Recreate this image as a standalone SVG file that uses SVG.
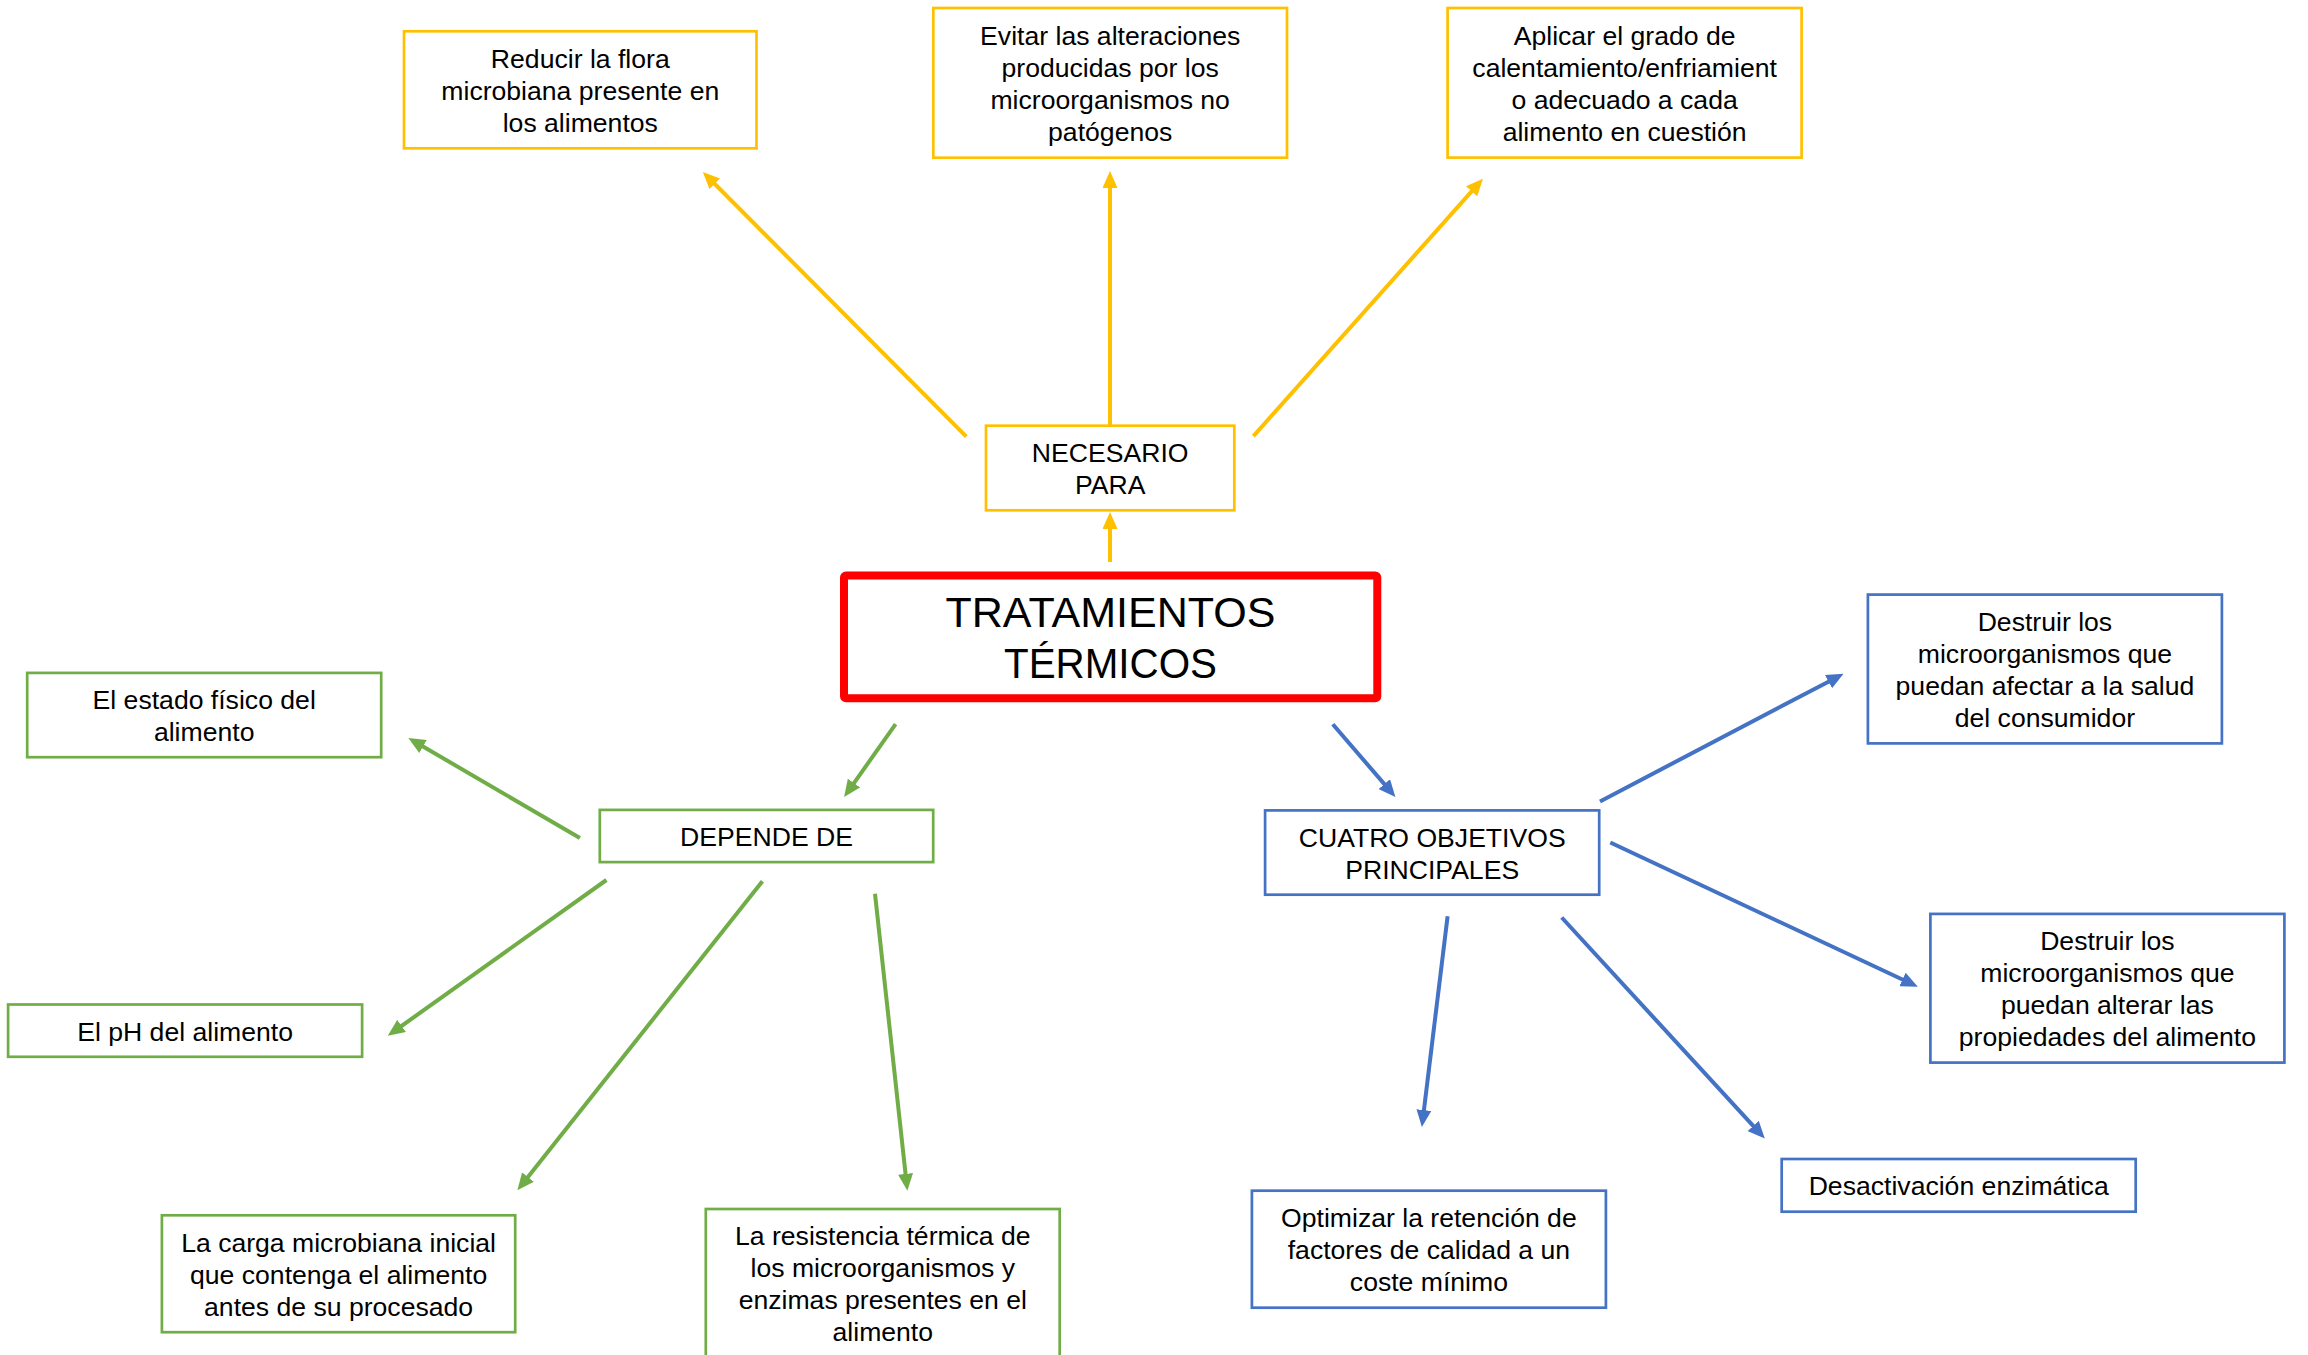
<svg xmlns="http://www.w3.org/2000/svg" width="2308" height="1355" viewBox="0 0 2308 1355">
<style>
.bg{fill:#ffffff}
.box{fill:#ffffff;stroke-width:2.7}
.y{stroke:#FFC000}
.g{stroke:#70AD47}
.b{stroke:#4472C4}
.t{font-family:"Liberation Sans",Arial,sans-serif;font-size:26.6px;fill:#000000;text-anchor:middle}
.title{font-family:"Liberation Sans",Arial,sans-serif;font-size:43px;fill:#000000;text-anchor:middle}
.c{fill:none;stroke-width:4}
</style>
<defs>
<marker id="ay" markerUnits="userSpaceOnUse" markerWidth="17" markerHeight="15" refX="7" refY="7.5" orient="auto"><path d="M0,0 L17,7.5 L0,15 Z" fill="#FFC000"/></marker>
<marker id="ag" markerUnits="userSpaceOnUse" markerWidth="17" markerHeight="15" refX="7" refY="7.5" orient="auto"><path d="M0,0 L17,7.5 L0,15 Z" fill="#70AD47"/></marker>
<marker id="ab" markerUnits="userSpaceOnUse" markerWidth="17" markerHeight="15" refX="7" refY="7.5" orient="auto"><path d="M0,0 L17,7.5 L0,15 Z" fill="#4472C4"/></marker>
</defs>
<rect class="bg" x="0" y="0" width="2308" height="1355"/>

<g id="connectors">
<line class="c y" x1="966.3" y1="436.6" x2="709.9" y2="179" marker-end="url(#ay)"/>
<line class="c y" x1="1110" y1="426" x2="1110" y2="181" marker-end="url(#ay)"/>
<line class="c y" x1="1253.4" y1="436.2" x2="1476.3" y2="186.1" marker-end="url(#ay)"/>
<line class="c y" x1="1110" y1="562" x2="1110" y2="522" marker-end="url(#ay)"/>
<line class="c g" x1="895.6" y1="724.2" x2="849.9" y2="788.8" marker-end="url(#ag)"/>
<line class="c g" x1="579.9" y1="838" x2="417" y2="743" marker-end="url(#ag)"/>
<line class="c g" x1="606.4" y1="880" x2="395.9" y2="1030" marker-end="url(#ag)"/>
<line class="c g" x1="762.4" y1="881.3" x2="523.6" y2="1182.5" marker-end="url(#ag)"/>
<line class="c g" x1="875" y1="893.8" x2="906.3" y2="1180.8" marker-end="url(#ag)"/>
<line class="c b" x1="1332.8" y1="724.2" x2="1388.9" y2="789.4" marker-end="url(#ab)"/>
<line class="c b" x1="1600" y1="801.4" x2="1834.7" y2="678.4" marker-end="url(#ab)"/>
<line class="c b" x1="1610.3" y1="842.5" x2="1908.8" y2="982.5" marker-end="url(#ab)"/>
<line class="c b" x1="1447.6" y1="916.2" x2="1423.1" y2="1117" marker-end="url(#ab)"/>
<line class="c b" x1="1561.7" y1="917.5" x2="1758" y2="1131.1" marker-end="url(#ab)"/>
</g>

<g id="n-reducir">
<rect class="box y" x="404" y="31.3" width="352.5" height="117"/>
<text class="t"><tspan x="580.3" y="67.7">Reducir la flora</tspan><tspan x="580.3" y="99.7">microbiana presente en</tspan><tspan x="580.3" y="131.7">los alimentos</tspan></text>
</g>
<g id="n-evitar">
<rect class="box y" x="933.3" y="8" width="353.7" height="149.7"/>
<text class="t"><tspan x="1110.2" y="44.8">Evitar las alteraciones</tspan><tspan x="1110.2" y="76.8">producidas por los</tspan><tspan x="1110.2" y="108.8">microorganismos no</tspan><tspan x="1110.2" y="140.8">patógenos</tspan></text>
</g>
<g id="n-aplicar">
<rect class="box y" x="1447.6" y="8" width="354" height="149.6"/>
<text class="t"><tspan x="1624.6" y="44.8">Aplicar el grado de</tspan><tspan x="1624.6" y="76.8">calentamiento/enfriamient</tspan><tspan x="1624.6" y="108.8">o adecuado a cada</tspan><tspan x="1624.6" y="140.8">alimento en cuestión</tspan></text>
</g>
<g id="n-necesario">
<rect class="box y" x="986" y="425.7" width="248.3" height="84.6"/>
<text class="t"><tspan x="1110.2" y="462">NECESARIO</tspan><tspan x="1110.2" y="494">PARA</tspan></text>
</g>
<g id="n-tratamientos">
<rect x="844" y="575.5" width="533.3" height="122.8" rx="2" fill="#ffffff" stroke="#FF0000" stroke-width="8"/>
<text class="title"><tspan x="1110.5" y="626.7" textLength="330" lengthAdjust="spacingAndGlyphs">TRATAMIENTOS</tspan><tspan x="1110.5" y="678.3" textLength="213" lengthAdjust="spacingAndGlyphs">TÉRMICOS</tspan></text>
</g>

<g id="n-estado">
<rect class="box g" x="27.2" y="672.9" width="354" height="84.3"/>
<text class="t"><tspan x="204.2" y="709">El estado físico del</tspan><tspan x="204.2" y="741">alimento</tspan></text>
</g>
<g id="n-depende">
<rect class="box g" x="599.8" y="809.9" width="333.4" height="52.2"/>
<text class="t" x="766.5" y="846">DEPENDE DE</text>
</g>
<g id="n-ph">
<rect class="box g" x="8.1" y="1004.5" width="354" height="52.3"/>
<text class="t" x="185.1" y="1040.6">El pH del alimento</text>
</g>
<g id="n-carga">
<rect class="box g" x="161.9" y="1215.3" width="353.3" height="116.9"/>
<text class="t"><tspan x="338.6" y="1251.7">La carga microbiana inicial</tspan><tspan x="338.6" y="1283.7">que contenga el alimento</tspan><tspan x="338.6" y="1315.7">antes de su procesado</tspan></text>
</g>
<g id="n-resistencia">
<rect class="box g" x="705.8" y="1209" width="353.9" height="160"/>
<text class="t"><tspan x="882.8" y="1245">La resistencia térmica de</tspan><tspan x="882.8" y="1277">los microorganismos y</tspan><tspan x="882.8" y="1309">enzimas presentes en el</tspan><tspan x="882.8" y="1341">alimento</tspan></text>
</g>

<g id="n-cuatro">
<rect class="box b" x="1265.1" y="810.4" width="334.1" height="84.3"/>
<text class="t"><tspan x="1432.2" y="846.5">CUATRO OBJETIVOS</tspan><tspan x="1432.2" y="878.5">PRINCIPALES</tspan></text>
</g>
<g id="n-salud">
<rect class="box b" x="1867.9" y="594.6" width="354" height="148.8"/>
<text class="t"><tspan x="2044.9" y="631">Destruir los</tspan><tspan x="2044.9" y="663">microorganismos que</tspan><tspan x="2044.9" y="695">puedan afectar a la salud</tspan><tspan x="2044.9" y="727">del consumidor</tspan></text>
</g>
<g id="n-alterar">
<rect class="box b" x="1930.4" y="913.9" width="354" height="148.7"/>
<text class="t"><tspan x="2107.4" y="950.3">Destruir los</tspan><tspan x="2107.4" y="982.3">microorganismos que</tspan><tspan x="2107.4" y="1014.3">puedan alterar las</tspan><tspan x="2107.4" y="1046.3">propiedades del alimento</tspan></text>
</g>
<g id="n-desactivacion">
<rect class="box b" x="1781.7" y="1159" width="354" height="52.7"/>
<text class="t" x="1958.7" y="1195.4">Desactivación enzimática</text>
</g>
<g id="n-optimizar">
<rect class="box b" x="1251.9" y="1190.7" width="354" height="117"/>
<text class="t"><tspan x="1428.9" y="1227.2">Optimizar la retención de</tspan><tspan x="1428.9" y="1259.2">factores de calidad a un</tspan><tspan x="1428.9" y="1291.2">coste mínimo</tspan></text>
</g>
</svg>
